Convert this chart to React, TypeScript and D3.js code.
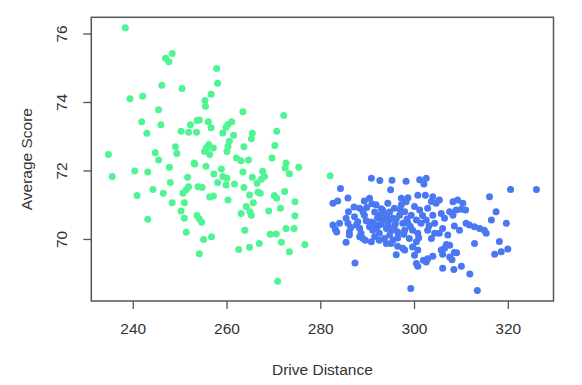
import React, { useRef, useEffect } from 'react';
import * as d3 from 'd3';

// [drive distance, average score]
const shortHitters: [number, number][] = [
    [238.4, 76.18], [248.4, 75.43], [247.0, 75.29], [247.7, 75.19], [257.9, 74.99], [258.1, 74.56],
    [246.2, 74.50], [250.5, 74.41], [256.7, 74.24], [242.1, 74.18], [239.4, 74.11], [255.4, 74.06],
    [255.5, 73.89], [263.5, 73.73], [245.5, 73.79], [272.2, 73.62], [241.9, 73.44], [246.0, 73.35],
    [254.2, 73.49], [253.7, 73.47], [252.3, 73.35], [256.1, 73.44], [256.7, 73.26], [261.1, 73.44],
    [260.3, 73.36], [259.9, 73.28], [250.3, 73.16], [251.9, 73.13], [253.6, 73.13], [243.0, 73.10],
    [259.2, 73.11], [261.5, 73.04], [265.5, 73.10], [265.3, 72.94], [270.7, 73.16], [260.6, 72.87],
    [260.3, 72.72], [260.1, 72.57], [256.2, 72.77], [255.7, 72.67], [255.3, 72.57], [257.2, 72.67],
    [256.4, 72.48], [249.1, 72.71], [249.4, 72.51], [263.7, 72.71], [270.3, 72.74], [234.8, 72.48],
    [244.8, 72.53], [245.5, 72.32], [253.1, 72.23], [262.1, 72.38], [263.1, 72.30], [264.7, 72.32],
    [269.7, 72.38], [272.7, 72.23], [272.5, 72.09], [273.4, 71.92], [275.4, 72.11], [282.1, 71.86],
    [258.9, 72.06], [259.2, 71.84], [263.5, 71.97], [267.7, 71.99], [268.1, 71.84], [267.4, 71.76],
    [265.5, 71.82], [260.1, 71.79], [259.9, 71.59], [261.7, 71.62], [266.5, 71.64], [266.7, 71.38],
    [267.2, 71.35], [263.7, 71.52], [264.9, 71.30], [265.7, 71.07], [270.2, 71.28], [270.7, 71.20],
    [272.4, 71.40], [260.3, 71.15], [264.2, 70.96], [265.0, 70.81], [265.3, 70.71], [263.1, 70.76],
    [271.5, 70.91], [269.0, 70.83], [274.6, 71.10], [274.6, 70.69], [263.9, 70.27], [272.7, 70.32],
    [274.4, 70.32], [269.3, 70.15], [270.6, 70.16], [271.7, 69.92], [267.0, 69.88], [264.9, 69.77],
    [262.6, 69.71], [273.4, 69.64], [276.7, 69.85], [270.9, 68.78], [235.6, 71.84], [240.4, 72.00],
    [243.2, 71.97], [240.9, 71.28], [243.2, 70.59], [244.3, 71.46], [246.5, 71.35], [247.8, 72.11],
    [248.0, 71.66], [248.4, 71.07], [253.2, 72.20], [255.6, 72.14], [251.7, 71.82], [251.9, 71.54],
    [251.4, 71.45], [250.7, 71.35], [251.0, 71.07], [250.3, 70.83], [251.0, 70.62], [251.4, 70.21],
    [253.9, 71.54], [254.8, 71.52], [253.7, 70.70], [254.2, 70.60], [254.7, 70.50], [256.4, 71.24],
    [257.2, 71.27], [255.1, 70.00], [256.8, 70.08], [254.2, 69.58], [257.3, 71.91], [258.1, 71.66]
];

const longHitters: [number, number][] = [
    [290.9, 71.79], [292.7, 71.72], [295.3, 71.73], [298.3, 71.70], [301.2, 71.74], [302.6, 71.79],
    [302.1, 71.62], [284.3, 71.49], [295.0, 71.45], [320.6, 71.46], [326.1, 71.46], [285.9, 71.21],
    [282.7, 71.06], [283.7, 71.12], [289.4, 71.12], [290.5, 71.20], [291.0, 71.04], [288.4, 70.91],
    [289.1, 70.81], [289.9, 70.93], [286.0, 70.81], [287.3, 70.66], [288.0, 70.52], [287.7, 70.42],
    [285.5, 70.62], [285.9, 70.47], [282.7, 70.42], [283.2, 70.30], [283.5, 70.22], [286.2, 70.22],
    [286.2, 70.13], [288.7, 70.18], [288.4, 70.08], [289.1, 70.03], [290.5, 70.37], [291.2, 70.27],
    [290.9, 69.93], [291.6, 70.08], [292.6, 70.71], [293.3, 70.57], [292.6, 70.42], [294.1, 70.32],
    [292.6, 70.18], [293.7, 70.03], [292.6, 69.98], [291.9, 71.01], [293.3, 70.86], [285.5, 69.92],
    [287.4, 69.31], [294.4, 71.06], [297.3, 71.20], [298.3, 71.10], [300.8, 71.29], [302.4, 71.29],
    [304.0, 71.25], [305.4, 71.15], [304.7, 71.06], [303.7, 71.11], [308.3, 71.10], [309.3, 71.15],
    [310.4, 71.06], [310.1, 70.88], [311.0, 70.86], [309.0, 70.86], [316.1, 71.25], [317.5, 70.81],
    [316.5, 70.57], [319.7, 70.47], [318.2, 69.94], [320.0, 69.72], [318.6, 69.64], [317.2, 69.57],
    [315.4, 70.18], [314.0, 70.32], [312.9, 70.37], [311.8, 70.42], [311.1, 70.47], [312.9, 69.88],
    [309.7, 70.27], [308.6, 70.39], [311.9, 68.99], [313.5, 68.51], [310.1, 69.22], [308.5, 69.12],
    [306.1, 69.16], [309.1, 69.61], [308.1, 69.41], [307.6, 69.49], [306.5, 69.74], [305.8, 69.69],
    [306.1, 69.57], [307.6, 69.83], [299.3, 68.57], [296.2, 69.55], [300.5, 69.30], [300.8, 69.22],
    [302.0, 69.39], [302.9, 69.44], [304.0, 69.51], [302.6, 69.34], [300.1, 69.54], [284.1, 70.47],
    [295.8, 70.91], [294.1, 70.71], [295.5, 70.62], [296.9, 70.71], [298.0, 70.81], [294.4, 70.42],
    [295.8, 70.37], [297.6, 70.47], [294.8, 70.13], [296.5, 70.22], [294.1, 69.88], [295.5, 69.98],
    [300.1, 70.96], [301.2, 70.86], [299.4, 70.71], [300.5, 70.57], [298.7, 70.47], [301.5, 70.47],
    [299.7, 70.27], [300.8, 70.18], [299.0, 70.03], [300.5, 69.93], [302.9, 70.91], [304.0, 70.71],
    [302.6, 70.57], [304.4, 70.47], [302.9, 70.27], [304.4, 70.18], [303.7, 70.03], [305.8, 70.76],
    [306.5, 70.62], [306.1, 70.32], [305.4, 70.18], [307.2, 70.13], [307.6, 70.81], [308.3, 70.71],
    [315.0, 70.27], [299.7, 69.78], [300.8, 69.69], [298.0, 69.69], [306.9, 69.85], [308.6, 69.62],
    [298.7, 71.22], [291.6, 70.80], [292.2, 70.63], [290.9, 70.51], [294.8, 70.80], [295.2, 70.27],
    [294.3, 70.63], [292.0, 70.33], [296.5, 70.04], [289.4, 70.71], [297.3, 71.01], [298.0, 70.27],
    [295.1, 69.88], [297.6, 69.74], [289.6, 69.98], [296.5, 69.80], [288.4, 70.33],
    [293.0, 70.90], [293.8, 70.75], [294.6, 70.55], [296.2, 70.60], [297.0, 70.88], [291.5, 70.45],
    [293.0, 70.45], [296.0, 70.45], [298.5, 70.60], [297.8, 70.15], [299.2, 70.38], [301.8, 70.70],
    [303.2, 70.40], [301.0, 70.05], [289.8, 70.55], [287.2, 70.95], [286.5, 70.35]
];

const xTicks = [240, 260, 280, 300, 320];
const yTicks = [70, 72, 74, 76];
const groupColors = ['#50F493', '#4A78F2'];
const xTitle = 'Drive Distance';
const yTitle = 'Average Score';

const W = 582;
const H = 385;
const margin = { top: 17.3, right: 28.5, bottom: 84, left: 91.3 };

// R style axis range: data extent plus 4% each side
const padExtent = (vals: number[]) => {
    const [lo, hi] = d3.extent(vals) as [number, number];
    const pad = (hi - lo) * 0.04;
    return [lo - pad, hi + pad];
};

const ScatterChart = () => {
    const ref = useRef<SVGSVGElement>(null);

    useEffect(() => {
        const svg = d3.select(ref.current);
        svg.selectAll('*').remove();

        const all = shortHitters.concat(longHitters);
        const x = d3.scaleLinear().domain(padExtent(all.map(d => d[0]))).range([margin.left, W - margin.right]);
        const y = d3.scaleLinear().domain(padExtent(all.map(d => d[1]))).range([H - margin.bottom, margin.top]);

        const font = '"Liberation Sans", Arial, sans-serif';
        const axisColor = '#555';
        const textColor = '#333';

        // points
        [shortHitters, longHitters].forEach((group, gi) => {
            svg.append('g')
                .selectAll('circle')
                .data(group)
                .enter().append('circle')
                .attr('cx', d => x(d[0]))
                .attr('cy', d => y(d[1]))
                .attr('r', 3.5)
                .attr('fill', groupColors[gi]);
        });

        // box
        svg.append('rect')
            .attr('x', margin.left)
            .attr('y', margin.top)
            .attr('width', W - margin.left - margin.right)
            .attr('height', H - margin.top - margin.bottom)
            .attr('fill', 'none')
            .attr('stroke', axisColor)
            .attr('stroke-width', 1.5);

        // bottom axis
        const xAxis = d3.axisBottom(x).tickValues(xTicks).tickSize(8).tickPadding(14).tickFormat(d3.format('d'));
        const gx = svg.append('g')
            .attr('transform', 'translate(0,' + (H - margin.bottom) + ')')
            .call(xAxis);
        gx.select('.domain').remove();
        gx.selectAll('line').attr('stroke', axisColor).attr('stroke-width', 1.3);
        gx.selectAll('text')
            .attr('fill', textColor)
            .style('font-family', font)
            .style('font-size', '15.5px');

        // left axis, labels parallel to the axis
        const gy = svg.append('g');
        yTicks.forEach(t => {
            gy.append('line')
                .attr('x1', margin.left - 8).attr('x2', margin.left)
                .attr('y1', y(t)).attr('y2', y(t))
                .attr('stroke', axisColor).attr('stroke-width', 1.3);
            gy.append('text')
                .attr('transform', 'translate(' + (margin.left - 24) + ',' + y(t) + ') rotate(-90)')
                .attr('text-anchor', 'middle')
                .attr('fill', textColor)
                .style('font-family', font)
                .style('font-size', '15.5px')
                .text(t);
        });

        // axis titles
        svg.append('text')
            .attr('x', (margin.left + W - margin.right) / 2)
            .attr('y', 375)
            .attr('text-anchor', 'middle')
            .attr('fill', textColor)
            .style('font-family', font)
            .style('font-size', '15.5px')
            .text(xTitle);

        svg.append('text')
            .attr('transform', 'translate(32,' + (margin.top + H - margin.bottom) / 2 + ') rotate(-90)')
            .attr('text-anchor', 'middle')
            .attr('fill', textColor)
            .style('font-family', font)
            .style('font-size', '15.5px')
            .text(yTitle);
    }, []);

    return (
        <svg ref={ref} width={W} height={H}
            style={{ position: 'absolute', left: 0, top: 0, background: '#fff' }} />
    );
};

export default function App() {
    return <ScatterChart />;
}
